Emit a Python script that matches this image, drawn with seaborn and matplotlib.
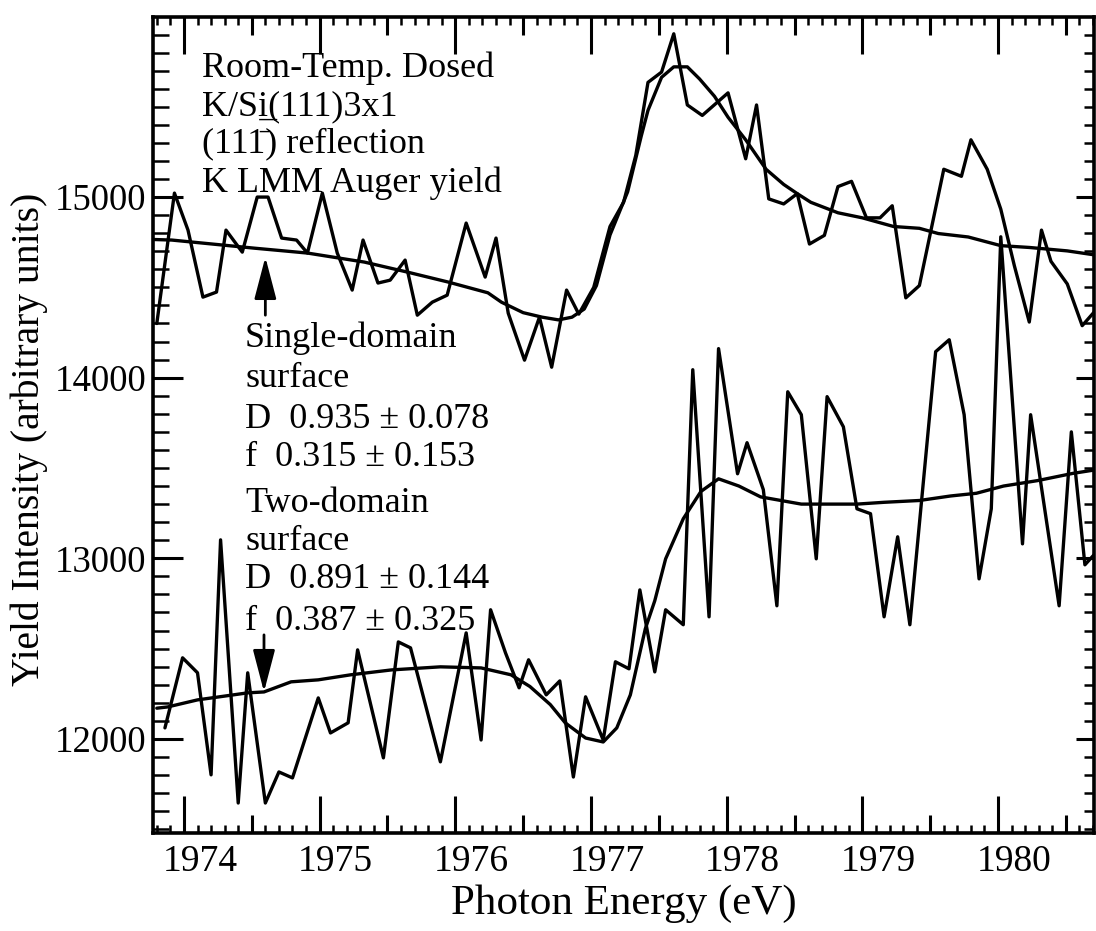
import matplotlib
matplotlib.use("Agg")
import matplotlib.pyplot as plt
import matplotlib.transforms as mtransforms
from matplotlib.ticker import MultipleLocator, FuncFormatter
import pandas as pd
import seaborn as sns

# ---- single-domain (room-temperature dosed) K LMM Auger yield ----
upper_energy = [1973.80, 1973.93, 1974.03, 1974.14, 1974.24, 1974.31, 1974.43, 1974.54,
                1974.62, 1974.72, 1974.83, 1974.91, 1975.02, 1975.13, 1975.24, 1975.32,
                1975.43, 1975.52, 1975.63, 1975.72, 1975.83, 1975.94, 1976.08, 1976.22,
                1976.30, 1976.39, 1976.51, 1976.62, 1976.71, 1976.82, 1976.91, 1977.02,
                1977.14, 1977.24, 1977.33, 1977.42, 1977.52, 1977.61, 1977.71, 1977.82,
                1978.01, 1978.14, 1978.22, 1978.31, 1978.42, 1978.52, 1978.61, 1978.72,
                1978.82, 1978.92, 1979.03, 1979.13, 1979.22, 1979.32, 1979.42, 1979.60,
                1979.73, 1979.80, 1979.92, 1980.02, 1980.12, 1980.23, 1980.32, 1980.39,
                1980.51, 1980.62, 1980.71]
upper_yield = [14300, 15022, 14817, 14446, 14474, 14817, 14695, 15000,
               15000, 14773, 14762, 14690, 15022, 14690, 14485, 14762,
               14524, 14540, 14651, 14346, 14418, 14457, 14856, 14557,
               14773, 14357, 14097, 14335, 14058, 14485, 14352, 14500,
               14837, 14971, 15231, 15635, 15692, 15904, 15510, 15452,
               15577, 15212, 15510, 14990, 14962, 15019, 14740, 14788,
               15058, 15087, 14885, 14885, 14952, 14442, 14510, 15154,
               15115, 15317, 15154, 14933, 14620, 14308, 14817, 14644,
               14519, 14288, 14365]

upper_fit_energy = [1973.78, 1973.91, 1974.52, 1974.91, 1975.33, 1975.65, 1975.95, 1976.24,
                    1976.34, 1976.50, 1976.64, 1976.76, 1976.86, 1976.95, 1977.04, 1977.14,
                    1977.27, 1977.37, 1977.42, 1977.52, 1977.61, 1977.71, 1977.80, 1977.91,
                    1978.01, 1978.14, 1978.29, 1978.42, 1978.52, 1978.62, 1978.82, 1979.00,
                    1979.23, 1979.42, 1979.56, 1979.78, 1980.02, 1980.23, 1980.51, 1980.71]
upper_fit_yield = [14765, 14762, 14717, 14690, 14640, 14584, 14529, 14470,
                   14418, 14360, 14335, 14320, 14335, 14380, 14510, 14790,
                   15029, 15337, 15480, 15663, 15721, 15721, 15654, 15558,
                   15442, 15317, 15154, 15070, 15019, 14971, 14913, 14885,
                   14837, 14827, 14798, 14779, 14731, 14721, 14702, 14680]

# ---- two-domain surface ----
lower_energy = [1973.86, 1973.99, 1974.10, 1974.20, 1974.27, 1974.40, 1974.47, 1974.60,
                1974.70, 1974.80, 1974.99, 1975.08, 1975.21, 1975.28, 1975.47, 1975.58,
                1975.67, 1975.89, 1976.08, 1976.19, 1976.26, 1976.37, 1976.47, 1976.54,
                1976.67, 1976.77, 1976.87, 1976.96, 1977.09, 1977.18, 1977.28, 1977.36,
                1977.47, 1977.55, 1977.68, 1977.75, 1977.87, 1977.94, 1978.08, 1978.15,
                1978.27, 1978.37, 1978.45, 1978.55, 1978.66, 1978.74, 1978.86, 1978.96,
                1979.06, 1979.16, 1979.26, 1979.35, 1979.54, 1979.64, 1979.75, 1979.86,
                1979.95, 1980.02, 1980.18, 1980.24, 1980.45, 1980.54, 1980.64, 1980.72]
lower_yield = [12061, 12449, 12366, 11801, 13102, 11645, 12366, 11645,
               11817, 11784, 12227, 12033, 12089, 12493, 11895, 12537,
               12504, 11873, 12587, 11994, 12715, 12476, 12283, 12438,
               12244, 12321, 11789, 12233, 11994, 12427, 12388, 12825,
               12371, 12715, 12632, 14044, 12676, 14161, 13468, 13640,
               13380, 12737, 13922, 13795, 12997, 13895, 13728, 13274,
               13247, 12676, 13119, 12632, 14144, 14210, 13795, 12886,
               13274, 14780, 13080, 13795, 12737, 13700, 12964, 13030]

lower_fit_energy = [1973.80, 1973.88, 1974.10, 1974.47, 1974.59, 1974.79, 1974.99, 1975.23,
                    1975.53, 1975.89, 1976.19, 1976.41, 1976.55, 1976.70, 1976.81, 1976.96,
                    1977.09, 1977.19, 1977.29, 1977.40, 1977.47, 1977.55, 1977.68, 1977.81,
                    1977.94, 1978.09, 1978.25, 1978.55, 1978.96, 1979.16, 1979.42, 1979.65,
                    1979.84, 1980.04, 1980.29, 1980.55, 1980.72]
lower_fit_yield = [12170, 12177, 12216, 12255, 12260, 12316, 12327, 12355,
                   12382, 12399, 12393, 12355, 12290, 12190, 12089, 12005,
                   11983, 12061, 12244, 12609, 12765, 12997, 13219, 13370,
                   13440, 13400, 13340, 13300, 13300, 13310, 13320, 13345,
                   13360, 13400, 13430, 13470, 13490]

xticks_labelled = [1974, 1975, 1976, 1977, 1978, 1979, 1980]
yticks_labelled = [12000, 13000, 14000, 15000]

sns.set_theme(style="ticks")
plt.rcParams["font.family"] = ["Liberation Serif", "DejaVu Serif"]
plt.rcParams["mathtext.fontset"] = "custom"
plt.rcParams["mathtext.rm"] = "Liberation Serif"
for key in ("text.color", "axes.labelcolor", "xtick.color", "ytick.color",
            "xtick.labelcolor", "ytick.labelcolor", "axes.edgecolor"):
    plt.rcParams[key] = "black"

fig = plt.figure(figsize=(10.96, 9.31), dpi=100)
ax = fig.add_axes([153 / 1096, 98 / 931, 941 / 1096, 816 / 931])
ax.set_facecolor("white")

curves = [
    (upper_energy, upper_yield),
    (upper_fit_energy, upper_fit_yield),
    (lower_energy, lower_yield),
    (lower_fit_energy, lower_fit_yield),
]
for xs, ys in curves:
    df = pd.DataFrame({"energy": xs, "yield": ys})
    sns.lineplot(data=df, x="energy", y="yield", sort=False, estimator=None,
                 color="black", linewidth=2.4, ax=ax)

ax.set_xlim(1973.772, 1980.707)
ax.set_ylim(11479, 15997)

for sp in ax.spines.values():
    sp.set_linewidth(2.6)
    sp.set_color("black")

# tick layout: long ticks every eV, medium every 0.5 eV, short every 0.1 eV
ax.xaxis.set_major_locator(MultipleLocator(0.5))
ax.xaxis.set_minor_locator(MultipleLocator(0.1))
ax.yaxis.set_major_locator(MultipleLocator(1000))
ax.yaxis.set_minor_locator(MultipleLocator(100))
ax.xaxis.set_major_formatter(FuncFormatter(
    lambda v, p: f"{v:.0f}" if round(v) in xticks_labelled and abs(v - round(v)) < 1e-6 else ""))
ax.yaxis.set_major_formatter(FuncFormatter(
    lambda v, p: f"{v:.0f}" if round(v) in yticks_labelled else ""))

ax.tick_params(which="both", direction="in", top=True, right=True, colors="black",
               labelcolor="black")
ax.tick_params(axis="x", which="major", length=13, width=2.2, pad=8, labelsize=27)
ax.tick_params(axis="x", which="minor", length=5.8, width=1.8)
ax.tick_params(axis="y", which="major", length=21.6, width=2.2, pad=4.5, labelsize=26.5)
ax.tick_params(axis="y", which="minor", length=11.5, width=1.8)

label_shift = mtransforms.ScaledTranslation(16 / 100, 0, fig.dpi_scale_trans)
xlocs = ax.xaxis.get_majorticklocs()
for tick, loc in zip(ax.xaxis.get_major_ticks(len(xlocs)), xlocs):
    if abs(loc - round(loc)) < 1e-6:
        tick.tick1line.set_markersize(26.6)
        tick.tick2line.set_markersize(26.6)
    tick.label1.set_transform(tick.label1.get_transform() + label_shift)

ylocs = ax.yaxis.get_majorticklocs()
for tick in ax.yaxis.get_major_ticks(len(ylocs)):
    tick.tick2line.set_markersize(13)
ymlocs = ax.yaxis.get_minorticklocs()
for tick in ax.yaxis.get_minor_ticks(len(ymlocs)):
    tick.tick2line.set_markersize(7)

ax.set_xlabel("Photon Energy (eV)", fontsize=31, color="black")
ax.xaxis.set_label_coords(0.5, -0.063)
ax.xaxis.label.set_va("top")
ax.set_ylabel("Yield Intensity (arbitrary units)", fontsize=28.5, color="black")
ax.yaxis.set_label_coords(-0.1116, 0.482)

# sample description
fs = 26
desc_lines = [
    ("Room-Temp. Dosed", 0.9265),
    ("K/Si\u0332(111)3x1", 0.8799),
    ("(111\u0304) reflection", 0.8346),
    ("K LMM Auger yield", 0.7855),
]
for txt, yy in desc_lines:
    ax.text(0.052, yy, txt, transform=ax.transAxes, fontsize=fs, va="baseline",
            color="black")

# fit results
fit_lines = [
    ("Single-domain", 0.5956),
    ("surface", 0.5466),
    ("D  0.935 \u00b1 0.078", 0.4963),
    ("f  0.315 \u00b1 0.153", 0.4498),
    ("Two-domain", 0.3934),
    ("surface", 0.3468),
    ("D  0.891 \u00b1 0.144", 0.3002),
    ("f  0.387 \u00b1 0.325", 0.2488),
]
for txt, yy in fit_lines:
    ax.text(0.0978, yy, txt, transform=ax.transAxes, fontsize=fs, va="baseline",
            color="black")

arrow_kw = dict(arrowstyle="-|>,head_length=26,head_width=6.8", mutation_scale=1,
                color="black", lw=2.0, shrinkA=0, shrinkB=0)
ax.annotate("", xy=(1974.60, 14668), xytext=(1974.60, 14346), arrowprops=arrow_kw)
ax.annotate("", xy=(1974.59, 12260), xytext=(1974.59, 12576), arrowprops=arrow_kw)

fig.savefig("out.png", dpi=100, facecolor="white")
